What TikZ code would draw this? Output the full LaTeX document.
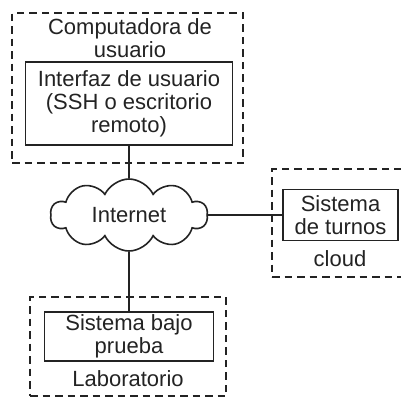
\documentclass[tikz,border=0pt]{standalone}
\usepackage{fontspec}
\setmainfont{Liberation Sans}
\usetikzlibrary{shapes.symbols}
\usetikzlibrary{positioning}
\definecolor{ink}{RGB}{35,35,35}
\tikzset{zone/.style={ draw=ink, line width=2pt, dash pattern=on 7.5pt off 5pt, inner sep=0pt },
            unit/.style={ draw=ink, line width=1.6pt, align=center, inner sep=0pt },
            netcloud/.style={ cloud, draw=ink, line width=1.6pt, cloud puffs=10,
                cloud puff arc=130, cloud ignores aspect, inner sep=0pt },
            link/.style={ draw=ink, line width=1.6pt }}

\begin{document}
\begin{tikzpicture}[x=1pt, y=-1pt, text=ink, align=center,
            font=\fontsize{22}{23}\selectfont]
            \useasboundingbox (0,0) rectangle (401,397);
            \clip (0,0) rectangle (401,397);
            % computadora de usuario
            \node [zone, minimum width=231pt, minimum height=150pt] (usrzone) at (127.5,88) {};
            \node (usrlabel) at (130,38) {Computadora de\\usuario};
            \node [unit, minimum width=207pt, minimum height=83pt] (ui) at (129,103.5)
                {Interfaz de usuario\\(SSH o escritorio\\remoto)};
            % internet
            \node [netcloud, minimum width=157pt, minimum height=72pt] (net) at (129,215) {Internet};
            % cloud
            \node [zone, minimum width=142pt, minimum height=108pt] (cldzone) at (343,223) {};
            \node [unit, minimum width=115pt, minimum height=51pt] (turnos) at (340.5,215)
                {Sistema\\de turnos};
            \node (cldlabel) at (340,259) {cloud};
            % laboratorio
            \node [zone, minimum width=196pt, minimum height=99pt] (labzone) at (128,346.5) {};
            \node [unit, minimum width=169pt, minimum height=49pt] (sut) at (129,336.5)
                {Sistema bajo\\prueba};
            \node (lablabel) at (128,379) {Laboratorio};
            \draw [link] (ui) -- (net);
            \draw [link] (net) -- (turnos);
            \draw [link] (net) -- (sut);
        \end{tikzpicture}
\end{document}
